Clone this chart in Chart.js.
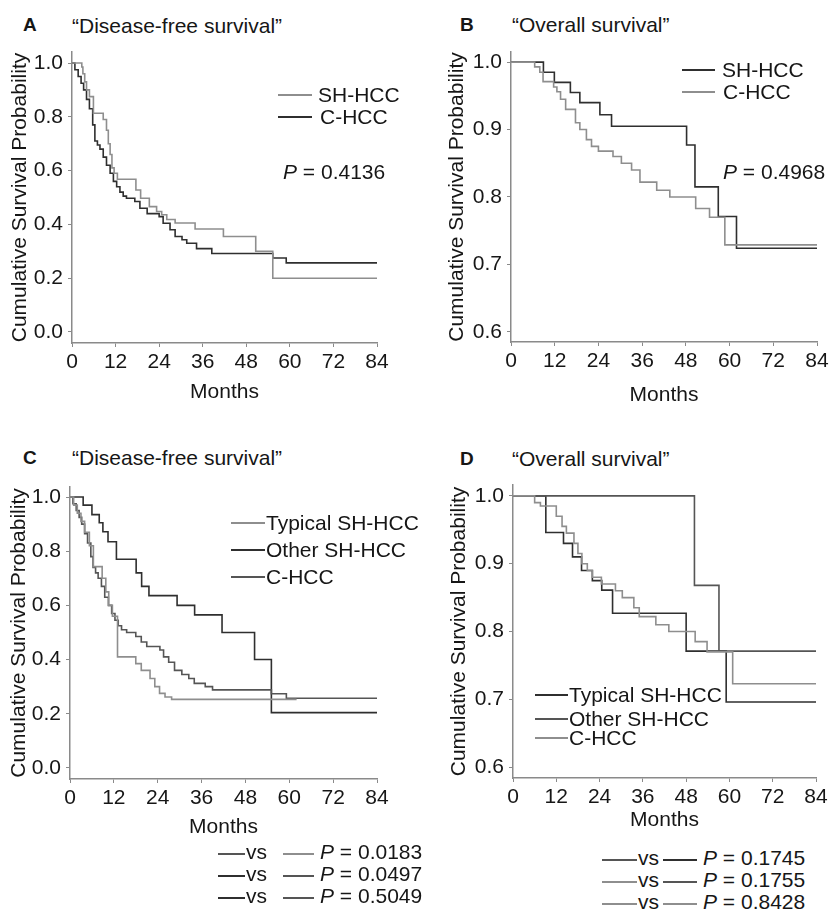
<!DOCTYPE html>
<html>
<head>
<meta charset="utf-8">
<script src="https://cdn.jsdelivr.net/npm/chart.js@4.4.3/dist/chart.umd.min.js"></script>
<style>
  body { margin: 0; background: #fff; }
  #page { position: relative; width: 829px; height: 913px; overflow: hidden;
    font-family: "Liberation Sans", Arial, Helvetica, sans-serif; color: #161616; }
  canvas { position: absolute; }
  .t { position: absolute; font-size: 21px; line-height: 24px; white-space: nowrap; }
  .b { font-weight: bold; font-size: 19px; }
  .ln { position: absolute; height: 0; border-top: 2px solid #2f2f2f; }
  .g { border-top-color: #8e8e8e; }
  .m { border-top-color: #555; }
</style>
</head>
<body>
<div id="page">
  <canvas id="panel-a" width="410" height="370" style="left:0;top:40px"></canvas>
  <canvas id="panel-b" width="389" height="370" style="left:440px;top:40px"></canvas>
  <canvas id="panel-c" width="410" height="370" style="left:0;top:475px"></canvas>
  <canvas id="panel-d" width="389" height="370" style="left:440px;top:475px"></canvas>

  <div class="t b" style="left:23px;top:13px">A</div>
  <div class="t" style="left:72px;top:14px">“Disease-free survival”</div>
  <div class="t b" style="left:460px;top:13px">B</div>
  <div class="t" style="left:512px;top:13px">“Overall survival”</div>
  <div class="t b" style="left:23px;top:446px">C</div>
  <div class="t" style="left:72px;top:446px">“Disease-free survival”</div>
  <div class="t b" style="left:460px;top:447px">D</div>
  <div class="t" style="left:512px;top:447px">“Overall survival”</div>

  <!-- legend A -->
  <div class="ln g" style="left:278px;top:94px;width:34px"></div>
  <div class="t" style="left:318px;top:83px">SH-HCC</div>
  <div class="ln" style="left:278px;top:116px;width:34px"></div>
  <div class="t" style="left:320px;top:105px">C-HCC</div>
  <div class="t" style="left:283px;top:160px"><i>P</i> = 0.4136</div>

  <!-- legend B -->
  <div class="ln" style="left:682px;top:69px;width:33px"></div>
  <div class="t" style="left:722px;top:58px">SH-HCC</div>
  <div class="ln g" style="left:682px;top:91px;width:33px"></div>
  <div class="t" style="left:723px;top:80px">C-HCC</div>
  <div class="t" style="left:723px;top:160px"><i>P</i> = 0.4968</div>

  <!-- legend C -->
  <div class="ln g" style="left:231px;top:522px;width:34px"></div>
  <div class="t" style="left:266px;top:511px">Typical SH-HCC</div>
  <div class="ln" style="left:231px;top:549px;width:34px"></div>
  <div class="t" style="left:266px;top:538px">Other SH-HCC</div>
  <div class="ln m" style="left:231px;top:576px;width:34px"></div>
  <div class="t" style="left:266px;top:565px">C-HCC</div>

  <!-- legend D -->
  <div class="ln" style="left:535px;top:694px;width:33px"></div>
  <div class="t" style="left:569px;top:683px">Typical SH-HCC</div>
  <div class="ln m" style="left:535px;top:718px;width:33px"></div>
  <div class="t" style="left:569px;top:707px">Other SH-HCC</div>
  <div class="ln g" style="left:535px;top:737px;width:33px"></div>
  <div class="t" style="left:569px;top:726px">C-HCC</div>

  <!-- pairwise P values C -->
  <div class="ln m" style="left:218px;top:853px;width:27px"></div>
  <div class="t" style="left:246px;top:840px">vs</div>
  <div class="ln g" style="left:283px;top:853px;width:31px"></div>
  <div class="t" style="left:320px;top:840px"><i>P</i> = 0.0183</div>
  <div class="ln" style="left:218px;top:875px;width:27px"></div>
  <div class="t" style="left:246px;top:862px">vs</div>
  <div class="ln m" style="left:283px;top:875px;width:31px"></div>
  <div class="t" style="left:320px;top:862px"><i>P</i> = 0.0497</div>
  <div class="ln" style="left:218px;top:897px;width:27px"></div>
  <div class="t" style="left:246px;top:884px">vs</div>
  <div class="ln m" style="left:283px;top:897px;width:31px"></div>
  <div class="t" style="left:320px;top:884px"><i>P</i> = 0.5049</div>

  <!-- pairwise P values D -->
  <div class="ln m" style="left:602px;top:859px;width:35px"></div>
  <div class="t" style="left:638px;top:846px">vs</div>
  <div class="ln" style="left:663px;top:859px;width:34px"></div>
  <div class="t" style="left:703px;top:846px"><i>P</i> = 0.1745</div>
  <div class="ln g" style="left:602px;top:881px;width:35px"></div>
  <div class="t" style="left:638px;top:868px">vs</div>
  <div class="ln m" style="left:663px;top:881px;width:34px"></div>
  <div class="t" style="left:703px;top:868px"><i>P</i> = 0.1755</div>
  <div class="ln g" style="left:602px;top:903px;width:35px"></div>
  <div class="t" style="left:638px;top:890px">vs</div>
  <div class="ln g" style="left:663px;top:903px;width:34px"></div>
  <div class="t" style="left:703px;top:890px"><i>P</i> = 0.8428</div>
</div>

<script>
const monthTicks = [0, 12, 24, 36, 48, 60, 72, 84];
const dfsTicks = [0, 0.2, 0.4, 0.6, 0.8, 1.0];
const osTicks = [0.6, 0.7, 0.8, 0.9, 1.0];

// A: disease-free survival, SH-HCC vs C-HCC
const aShMonths = [0, 2.7, 3.0, 3.5, 4.0, 4.8, 5.9, 8.6, 9.5, 10.0, 10.5, 11.0, 11.6, 12.5, 17.6, 18.9, 21.3, 23.3, 24.7, 26.1, 28.4, 33.9, 41.7, 50.6, 55.3, 84];
const aShSurv = [1, 0.985, 0.96, 0.93, 0.90, 0.875, 0.813, 0.79, 0.75, 0.70, 0.66, 0.61, 0.59, 0.568, 0.528, 0.497, 0.466, 0.448, 0.436, 0.418, 0.405, 0.383, 0.355, 0.30, 0.20, 0.20];
const aCMonths = [0, 0.8, 1.7, 2.5, 3.2, 4.0, 4.8, 5.7, 6.3, 7.0, 7.7, 8.6, 9.5, 10.5, 11.4, 12.3, 13.2, 14.1, 15.0, 17.3, 18.7, 20.7, 24.0, 25.1, 27.0, 28.4, 30.3, 31.6, 34.3, 38.5, 55.3, 59.0, 84];
const aCSurv = [1, 0.975, 0.95, 0.925, 0.90, 0.865, 0.83, 0.77, 0.71, 0.695, 0.68, 0.65, 0.62, 0.59, 0.56, 0.54, 0.52, 0.505, 0.497, 0.485, 0.46, 0.44, 0.429, 0.404, 0.38, 0.355, 0.343, 0.33, 0.31, 0.292, 0.275, 0.257, 0.257];

// B: overall survival, SH-HCC vs C-HCC
const bShMonths = [0, 8.9, 11.9, 16.3, 18.9, 24.4, 27.6, 48.2, 50.5, 56.9, 61.9, 84];
const bShSurv = [1, 0.985, 0.97, 0.955, 0.94, 0.922, 0.905, 0.877, 0.815, 0.771, 0.724, 0.724];
const bCMonths = [0, 6.5, 7.9, 8.8, 11.7, 12.6, 13.6, 15.0, 17.7, 18.9, 20.7, 22.1, 24.0, 28.0, 30.3, 33.1, 35.4, 40.0, 43.6, 50.7, 54.5, 58.7, 84];
const bCSurv = [1, 0.993, 0.985, 0.971, 0.963, 0.956, 0.945, 0.93, 0.91, 0.90, 0.885, 0.875, 0.868, 0.86, 0.85, 0.84, 0.822, 0.81, 0.80, 0.783, 0.77, 0.729, 0.729];

// C: disease-free survival, three groups
const cTypMonths = [0, 1.0, 2.0, 3.0, 4.0, 5.3, 6.4, 8.8, 9.8, 10.6, 11.6, 13.0, 18.0, 19.5, 21.9, 23.2, 24.5, 26.0, 27.8, 62];
const cTypSurv = [1, 0.97, 0.94, 0.91, 0.87, 0.82, 0.743, 0.70, 0.65, 0.60, 0.56, 0.41, 0.385, 0.36, 0.33, 0.30, 0.275, 0.262, 0.253, 0.253];
const cOthMonths = [0, 3.6, 6.0, 8.0, 9.0, 10.4, 12.7, 18.1, 19.6, 21.6, 29.3, 34.1, 41.6, 50.5, 55.1, 84];
const cOthSurv = [1, 0.97, 0.935, 0.905, 0.872, 0.835, 0.77, 0.72, 0.67, 0.636, 0.60, 0.565, 0.50, 0.40, 0.204, 0.204];
const cCMonths = [0, 0.8, 1.7, 2.5, 3.2, 4.0, 4.8, 5.7, 6.3, 7.0, 7.7, 8.6, 9.5, 10.5, 11.4, 12.3, 13.2, 14.1, 15.5, 18.0, 19.5, 21.0, 24.6, 25.6, 27.0, 28.6, 30.6, 32.5, 34.0, 37.0, 39.0, 55.1, 59.2, 84];
const cCSurv = [1, 0.975, 0.95, 0.925, 0.90, 0.865, 0.83, 0.78, 0.74, 0.72, 0.70, 0.67, 0.63, 0.60, 0.57, 0.545, 0.525, 0.51, 0.50, 0.485, 0.465, 0.448, 0.435, 0.41, 0.39, 0.36, 0.345, 0.33, 0.312, 0.30, 0.288, 0.274, 0.257, 0.257];

// D: overall survival, three groups
const dTypMonths = [0, 9.1, 14.0, 16.5, 19.0, 22.0, 24.6, 27.6, 48.0, 59.1, 84];
const dTypSurv = [1, 0.946, 0.93, 0.91, 0.89, 0.875, 0.861, 0.827, 0.771, 0.696, 0.696];
const dOthMonths = [0, 50.3, 57.1, 84];
const dOthSurv = [1, 0.868, 0.771, 0.771];
const dCMonths = [0, 6.0, 7.6, 12.0, 13.6, 14.8, 16.9, 18.0, 19.1, 20.6, 22.0, 24.5, 28.4, 30.3, 33.5, 35.0, 39.6, 43.2, 50.5, 53.8, 60.9, 84];
const dCSurv = [1, 0.99, 0.985, 0.97, 0.955, 0.945, 0.93, 0.915, 0.90, 0.89, 0.88, 0.87, 0.86, 0.85, 0.835, 0.822, 0.81, 0.80, 0.785, 0.77, 0.723, 0.723];

const DARK = "#2f2f2f";
const MID = "#555555";
const GRAY = "#8e8e8e";
const AXIS = "#8a8a8a";
const TEXT = "#161616";
const FONT = { family: "'Liberation Sans', Arial, Helvetica, sans-serif", size: 21 };

function curve(label, months, surv, color) {
  return {
    label,
    data: months.map((m, i) => ({ x: m, y: surv[i] })),
    borderColor: color,
    borderWidth: 1.6,
    stepped: true,
    pointRadius: 0,
    fill: false,
    tension: 0,
  };
}

function makePanel(id, datasets, yTicks, yMin, yMax, box) {
  return new Chart(document.getElementById(id), {
    type: "line",
    data: { datasets },
    options: {
      responsive: false,
      animation: false,
      events: [],
      layout: { padding: { top: box.top, right: box.right, left: 0, bottom: 0 } },
      plugins: { legend: { display: false }, tooltip: { enabled: false } },
      scales: {
        x: {
          type: "linear",
          min: 0,
          max: 84,
          afterBuildTicks(axis) {
            axis.ticks = monthTicks.map((v) => ({ value: v }));
          },
          afterFit(scale) {
            scale.height = box.xh;
            scale.paddingLeft = 0;
            scale.paddingRight = 0;
          },
          ticks: { color: TEXT, font: FONT, padding: 3, maxRotation: 0, autoSkip: false },
          grid: { drawOnChartArea: false, tickLength: 4, color: AXIS },
          border: { color: AXIS, width: 1.5 },
          title: {
            display: true,
            text: "Months",
            color: TEXT,
            font: FONT,
            padding: { top: 0, bottom: box.xtp },
          },
        },
        y: {
          type: "linear",
          min: yMin,
          max: yMax,
          afterBuildTicks(axis) {
            axis.ticks = yTicks.map((v) => ({ value: v }));
          },
          afterFit(scale) {
            scale.width = box.yw;
            scale.paddingTop = 0;
            scale.paddingBottom = 0;
          },
          ticks: {
            color: TEXT,
            font: FONT,
            padding: 5,
            callback: (v) => Number(v).toFixed(1),
          },
          grid: { drawOnChartArea: false, tickLength: 4, color: AXIS },
          border: { color: AXIS, width: 1.5 },
          title: {
            display: true,
            text: "Cumulative Survival Probability",
            color: TEXT,
            font: FONT,
            padding: { top: box.ytp, bottom: 0 },
          },
        },
      },
    },
  });
}

makePanel("panel-a", [
  curve("SH-HCC", aShMonths, aShSurv, GRAY),
  curve("C-HCC", aCMonths, aCSurv, DARK),
], dfsTicks, -0.041, 1.041, { top: 12, right: 33, yw: 72, xh: 67, xtp: 5, ytp: 8 });

makePanel("panel-b", [
  curve("C-HCC", bCMonths, bCSurv, GRAY),
  curve("SH-HCC", bShMonths, bShSurv, DARK),
], osTicks, 0.585, 1.015, { top: 12, right: 12, yw: 71, xh: 68, xtp: 2, ytp: 5 });

makePanel("panel-c", [
  curve("Typical SH-HCC", cTypMonths, cTypSurv, GRAY),
  curve("C-HCC", cCMonths, cCSurv, MID),
  curve("Other SH-HCC", cOthMonths, cOthSurv, DARK),
], dfsTicks, -0.041, 1.037, { top: 12, right: 33, yw: 70, xh: 66, xtp: 5, ytp: 7 });

makePanel("panel-d", [
  curve("C-HCC", dCMonths, dCSurv, GRAY),
  curve("Other SH-HCC", dOthMonths, dOthSurv, MID),
  curve("Typical SH-HCC", dTypMonths, dTypSurv, DARK),
], osTicks, 0.584, 1.016, { top: 10, right: 13, yw: 73, xh: 67, xtp: 12, ytp: 7 });
</script>
</body>
</html>
